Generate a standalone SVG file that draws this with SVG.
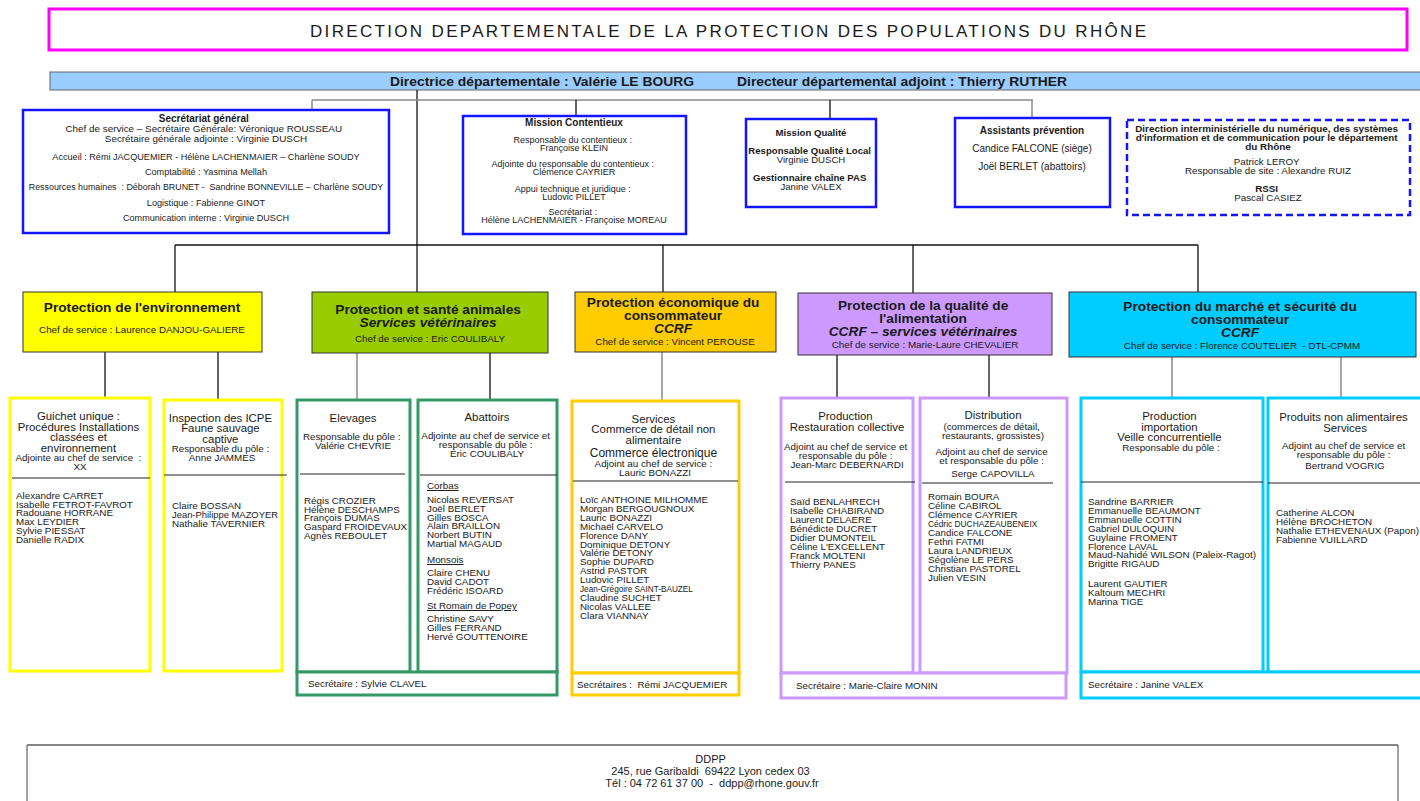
<svg xmlns="http://www.w3.org/2000/svg" width="1420" height="801" viewBox="0 0 1420 801">
  <style>
    text { font-family: "Liberation Sans", Arial, sans-serif; fill: #1a1a1a; }
    .c { text-anchor: middle; }
    .b { font-weight: bold; }
    .i { font-style: italic; }
    .u { text-decoration: underline; }
    .hd { font-size: 13.7px; font-weight: bold; }
    .chef { font-size: 9.8px; }
    .pt { font-size: 11.4px; }
    .ps { font-size: 9.8px; }
    .nm { font-size: 9.8px; }
    .st { font-size: 9.8px; }
    .narrow { font-family: "Liberation Sans Narrow", "Liberation Sans", Arial, sans-serif; }
    .staff { fill: #fff; stroke: #1414ff; stroke-width: 2.5; }
    .dir { stroke: #333; stroke-width: 1; }
    .pole { fill: #fff; stroke-width: 3; }
    .yel { stroke: #ffff00; }
    .grn { stroke: #339966; }
    .org { stroke: #ffcc00; }
    .pur { stroke: #cc99ff; }
    .cyn { stroke: #00ccff; }
    .div { stroke: #222; stroke-width: 1; fill: none; }
    .lnk { stroke: #111; stroke-width: 1.3; fill: none; }
    .lnkg { stroke: #8a8a8a; stroke-width: 1.5; fill: none; }
  </style>

  <rect x="0" y="0" width="1420" height="801" fill="#fff"/>

  <!-- Title banner -->
  <g id="title">
    <rect x="49" y="9" width="1358" height="41" fill="#fff" stroke="#ff00ff" stroke-width="3"/>
    <text x="310" y="37" font-size="17" textLength="836" lengthAdjust="spacing">DIRECTION DEPARTEMENTALE DE LA PROTECTION DES POPULATIONS DU RHÔNE</text>
  </g>

  <!-- Direction bar -->
  <g id="direction">
    <rect x="50" y="72" width="1372" height="18" fill="#99ccff" stroke="#666" stroke-width="1"/>
    <text class="b" font-size="12" x="390" y="86" textLength="304" lengthAdjust="spacingAndGlyphs">Directrice départementale : Valérie LE BOURG</text>
    <text class="b" font-size="12" x="737" y="86" textLength="330" lengthAdjust="spacingAndGlyphs">Directeur départemental adjoint : Thierry RUTHER</text>
  </g>

  <!-- Connectors -->
  <g id="connectors">
    <path class="lnk" d="M417,90 V292"/>
    <path class="lnkg" d="M312,100 H1033"/>
    <path class="lnkg" d="M312,100 V110"/>
    <path class="lnk" d="M576,100 V116"/>
    <path class="lnk" d="M830,100 V119" stroke-width="2"/>
    <path class="lnkg" d="M1032,100 V118"/>
    <path class="lnk" d="M175,245 H1198"/>
    <path class="lnk" d="M175,245 V292" stroke-width="2.2"/>
    <path class="lnk" d="M663,245 V292"/>
    <path class="lnk" d="M913,245 V293"/>
    <path class="lnk" d="M1198,245 V292"/>
    <path class="lnk" d="M105,352 V397"/>
    <path class="lnk" d="M218,352 V400" stroke-width="2"/>
    <path class="lnkg" d="M357,353 V400"/>
    <path class="lnk" d="M490,353 V400"/>
    <path class="lnkg" d="M662,352 V401"/>
    <path class="lnk" d="M837,355 V398"/>
    <path class="lnk" d="M989,355 V398"/>
    <path class="lnkg" d="M1172,357 V398"/>
    <path class="lnkg" d="M1341,357 V398"/>
  </g>

  <!-- Staff units -->
  <g id="secretariat-general">
    <rect class="staff" x="23" y="110" width="366" height="123"/>
    <text class="c" x="206" y="122">
      <tspan x="206" y="122" class="b" font-size="10">Secrétariat général</tspan>
      <tspan x="206" y="132" font-size="9.9">Chef de service – Secrétaire Générale: Véronique ROUSSEAU</tspan>
      <tspan x="206" y="142" font-size="9.9">Secrétaire générale adjointe : Virginie DUSCH</tspan>
    </text>
    <text class="c" font-size="9.1" x="206" y="160">Accueil : Rémi JACQUEMIER - Hélène LACHENMAIER – Charlène SOUDY</text>
    <text class="c" font-size="9.1" x="206" y="175">Comptabilité : Yasmina Mellah</text>
    <text class="c" font-size="8.9" x="206" y="190">Ressources humaines&#160; : Déborah BRUNET -&#160; Sandrine BONNEVILLE – Charlène SOUDY</text>
    <text class="c" font-size="9.1" x="206" y="206">Logistique : Fabienne GINOT</text>
    <text class="c" font-size="9.1" x="206" y="221">Communication interne : Virginie DUSCH</text>
  </g>

  <g id="mission-contentieux">
    <rect class="staff" x="463" y="116" width="223" height="118"/>
    <text class="c b" font-size="10" x="574" y="126">Mission Contentieux</text>
    <text class="c" font-size="9" x="574" y="143">
      <tspan x="574" y="142.5">Responsable du contentieux :</tspan>
      <tspan x="574" y="151">Françoise KLEIN</tspan>
    </text>
    <text class="c" font-size="9" x="574" y="167">
      <tspan x="574" y="166.5">Adjointe du responsable du contentieux :</tspan>
      <tspan x="574" y="175">Clémence CAYRIER</tspan>
    </text>
    <text class="c" font-size="9" x="574" y="192">
      <tspan x="574" y="191.5">Appui technique et juridique :</tspan>
      <tspan x="574" y="200">Ludovic PILLET</tspan>
    </text>
    <text class="c" font-size="9" x="574" y="215">
      <tspan x="574" y="214.5">Secrétariat :</tspan>
      <tspan x="574" y="223">Hélène LACHENMAIER - Françoise MOREAU</tspan>
    </text>
  </g>

  <g id="mission-qualite">
    <rect class="staff" x="746" y="119" width="130" height="88"/>
    <text class="c b" font-size="9.6" x="811" y="136">Mission Qualité</text>
    <text class="c" font-size="9.6" x="811" y="154">
      <tspan x="811" y="154" class="b">Responsable Qualité Local</tspan>
      <tspan x="811" y="163">Virginie DUSCH</tspan>
    </text>
    <text class="c" font-size="9.6" x="811" y="181">
      <tspan x="811" y="181" class="b">Gestionnaire chaîne PAS</tspan>
      <tspan x="811" y="190">Janine VALEX</tspan>
    </text>
  </g>

  <g id="assistants-prevention">
    <rect class="staff" x="955" y="118" width="155" height="89"/>
    <text class="c b" font-size="10" x="1032" y="134">Assistants prévention</text>
    <text class="c" font-size="10" x="1032" y="152">Candice FALCONE (siège)</text>
    <text class="c" font-size="10" x="1032" y="170">Joël BERLET (abattoirs)</text>
  </g>

  <g id="dinum">
    <rect x="1127" y="120" width="283" height="95" fill="#fff" stroke="#1414ff" stroke-width="2.5" stroke-dasharray="7,4"/>
    <text class="c b" font-size="9.9" x="1268" y="132">
      <tspan x="1268" y="132">Direction interministérielle du numérique, des systèmes</tspan>
      <tspan x="1268" y="141">d'information et de communication pour le département</tspan>
      <tspan x="1268" y="150">du Rhône</tspan>
    </text>
    <text class="c" font-size="9.8" x="1268" y="165">
      <tspan x="1268" y="165">Patrick LEROY</tspan>
      <tspan x="1268" y="174">Responsable de site : Alexandre RUIZ</tspan>
    </text>
    <text class="c" font-size="9.8" x="1268" y="192">
      <tspan x="1268" y="192" class="b">RSSI</tspan>
      <tspan x="1268" y="201">Pascal CASIEZ</tspan>
    </text>
  </g>

  <!-- Services -->
  <g id="service-environnement">
    <rect class="dir" x="23" y="292" width="239" height="60" fill="#ffff00"/>
    <text class="c hd" x="142" y="312">Protection de l'environnement</text>
    <text class="c chef" x="142" y="333">Chef de service : Laurence DANJOU-GALIERE</text>
  </g>

  <g id="service-sante-animale">
    <rect class="dir" x="312" y="292" width="236" height="61" fill="#99cc00"/>
    <text class="c hd" x="430" y="314">
      <tspan x="430" y="314">Protection et santé animales</tspan>
      <tspan x="430" y="327" class="i">Services vétérinaires</tspan>
      <tspan x="430" y="342" class="chef" font-weight="normal">Chef de service : Eric COULIBALY</tspan>
    </text>
  </g>

  <g id="service-economique">
    <rect class="dir" x="575" y="292" width="201" height="60" fill="#ffcc00"/>
    <text class="c hd" x="675" y="307">
      <tspan x="675" y="307">Protection économique du</tspan>
      <tspan x="675" y="320">consommateur</tspan>
      <tspan x="675" y="333" class="i">CCRF</tspan>
      <tspan x="675" y="345" class="chef" font-weight="normal">Chef de service : Vincent PEROUSE</tspan>
    </text>
  </g>

  <g id="service-alimentation">
    <rect class="dir" x="798" y="293" width="254" height="62" fill="#cc99ff"/>
    <text class="c hd" x="925" y="310">
      <tspan x="925" y="310">Protection de la qualité de</tspan>
      <tspan x="925" y="323">l'alimentation</tspan>
      <tspan x="925" y="336" class="i">CCRF – services vétérinaires</tspan>
      <tspan x="925" y="348" class="chef" font-weight="normal">Chef de service : Marie-Laure CHEVALIER</tspan>
    </text>
  </g>

  <g id="service-marche">
    <rect class="dir" x="1069" y="292" width="347" height="65" fill="#00ccff"/>
    <text class="c hd" x="1242" y="311">
      <tspan x="1242" y="311">Protection du marché et sécurité du</tspan>
      <tspan x="1242" y="324">consommateur</tspan>
      <tspan x="1242" y="337" class="i">CCRF</tspan>
      <tspan x="1242" y="349" class="chef" font-weight="normal">Chef de service : Florence COUTELIER&#160; - DTL-CPMM</tspan>
    </text>
  </g>

  <!-- Poles: environnement -->
  <g id="pole-guichet-unique">
    <rect class="pole yel" x="10" y="398" width="140" height="273"/>
    <path class="div" d="M12,478 H150"/>
    <text class="c pt" x="80" y="420">
      <tspan x="80" y="420">Guichet unique :</tspan>
      <tspan x="80" y="430.5">Procédures Installations</tspan>
      <tspan x="80" y="441">classées et</tspan>
      <tspan x="80" y="451.5">environnement</tspan>
      <tspan x="80" y="461" class="ps">Adjointe au chef de service&#160; :</tspan>
      <tspan x="80" y="470" class="ps">XX</tspan>
    </text>
    <text class="nm" x="16" y="499">
      <tspan x="16">Alexandre CARRET</tspan>
      <tspan x="16" dy="8.7">Isabelle FETROT-FAVROT</tspan>
      <tspan x="16" dy="8.7">Radouane HORRANE</tspan>
      <tspan x="16" dy="8.7">Max LEYDIER</tspan>
      <tspan x="16" dy="8.7">Sylvie PIESSAT</tspan>
      <tspan x="16" dy="8.7">Danielle RADIX</tspan>
    </text>
  </g>

  <g id="pole-icpe">
    <rect class="pole yel" x="164" y="400" width="118" height="271"/>
    <path class="div" d="M164,475 H287"/>
    <text class="c pt" x="222" y="422">
      <tspan x="222" y="421.5">Inspection des ICPE</tspan>
      <tspan x="222" y="432">Faune sauvage</tspan>
      <tspan x="222" y="442.5">captive</tspan>
      <tspan x="222" y="452" class="ps">Responsable du pôle :</tspan>
      <tspan x="222" y="461" class="ps">Anne JAMMES</tspan>
    </text>
    <text class="nm" x="172" y="509">
      <tspan x="172">Claire BOSSAN</tspan>
      <tspan x="172" dy="8.8" textLength="106" lengthAdjust="spacingAndGlyphs">Jean-Philippe MAZOYER</tspan>
      <tspan x="172" dy="8.8">Nathalie TAVERNIER</tspan>
    </text>
  </g>

  <!-- Poles: santé animale -->
  <g id="pole-elevages">
    <rect class="pole grn" x="297" y="400" width="113" height="272"/>
    <path class="div" d="M300,474 H405"/>
    <text class="c pt" x="353" y="422">Elevages</text>
    <text class="c ps" x="353" y="440">
      <tspan x="353" y="440">Responsable du pôle :</tspan>
      <tspan x="353" y="449">Valérie CHEVRIE</tspan>
    </text>
    <text class="nm" x="304" y="504">
      <tspan x="304">Régis CROZIER</tspan>
      <tspan x="304" dy="8.7">Hélène DESCHAMPS</tspan>
      <tspan x="304" dy="8.7">François DUMAS</tspan>
      <tspan x="304" dy="8.7" textLength="103" lengthAdjust="spacingAndGlyphs">Gaspard FROIDEVAUX</tspan>
      <tspan x="304" dy="8.7">Agnès REBOULET</tspan>
    </text>
  </g>

  <g id="pole-abattoirs">
    <rect class="pole grn" x="418" y="400" width="139" height="272"/>
    <path class="div" d="M420,475 H557"/>
    <text class="c pt" x="487" y="421">Abattoirs</text>
    <text class="c ps" x="487" y="439">
      <tspan x="487" y="439">Adjointe au chef de service et</tspan>
      <tspan x="487" y="448">responsable du pôle :</tspan>
      <tspan x="487" y="457">Éric COULIBALY</tspan>
    </text>
    <text class="nm" x="427" y="489">
      <tspan x="427" y="489" class="u">Corbas</tspan>
      <tspan x="427" y="503">Nicolas REVERSAT</tspan>
      <tspan x="427" dy="8.8">Joël BERLET</tspan>
      <tspan x="427" dy="8.8">Gilles BOSCA</tspan>
      <tspan x="427" dy="8.8">Alain BRAILLON</tspan>
      <tspan x="427" dy="8.8">Norbert BUTIN</tspan>
      <tspan x="427" dy="8.8">Martial MAGAUD</tspan>
      <tspan x="427" y="563" class="u">Monsois</tspan>
      <tspan x="427" y="576">Claire CHENU</tspan>
      <tspan x="427" dy="8.8">David CADOT</tspan>
      <tspan x="427" dy="8.8">Frédéric ISOARD</tspan>
      <tspan x="427" y="609" class="u">St Romain de Popey</tspan>
      <tspan x="427" y="622">Christine SAVY</tspan>
      <tspan x="427" dy="8.8">Gilles FERRAND</tspan>
      <tspan x="427" dy="8.8">Hervé GOUTTENOIRE</tspan>
    </text>
  </g>

  <g id="secretariat-sante-animale">
    <rect class="pole grn" x="297" y="672" width="260" height="23"/>
    <text class="st" x="308" y="687">Secrétaire : Sylvie CLAVEL</text>
  </g>

  <!-- Pole: économique -->
  <g id="pole-services-commerce">
    <rect class="pole org" x="572" y="401" width="167" height="272"/>
    <path class="div" d="M573,481 H738"/>
    <text class="c pt" x="655" y="423">
      <tspan x="655" y="422.5">Services</tspan>
      <tspan x="655" y="433">Commerce de détail non</tspan>
      <tspan x="655" y="443.5">alimentaire</tspan>
      <tspan x="655" y="457" font-size="12">Commerce électronique</tspan>
      <tspan x="655" y="467" class="ps">Adjoint au chef de service :</tspan>
      <tspan x="655" y="476" class="ps">Lauric BONAZZI</tspan>
    </text>
    <text class="nm" x="580" y="503">
      <tspan x="580">Loïc ANTHOINE MILHOMME</tspan>
      <tspan x="580" dy="8.9">Morgan BERGOUGNOUX</tspan>
      <tspan x="580" dy="8.9">Lauric BONAZZI</tspan>
      <tspan x="580" dy="8.9">Michaël CARVELO</tspan>
      <tspan x="580" dy="8.9">Florence DANY</tspan>
      <tspan x="580" dy="8.9">Dominique DETONY</tspan>
      <tspan x="580" dy="8.9">Valérie DETONY</tspan>
      <tspan x="580" dy="8.9">Sophie DUPARD</tspan>
      <tspan x="580" dy="8.9">Astrid PASTOR</tspan>
      <tspan x="580" dy="8.9">Ludovic PILLET</tspan>
      <tspan x="580" dy="8.9" font-size="8.2">Jean-Grégoire SAINT-BAUZEL</tspan>
      <tspan x="580" dy="8.9">Claudine SUCHET</tspan>
      <tspan x="580" dy="8.9">Nicolas VALLEE</tspan>
      <tspan x="580" dy="8.9">Clara VIANNAY</tspan>
    </text>
  </g>

  <g id="secretariat-economique">
    <rect class="pole org" x="572" y="673" width="167" height="22"/>
    <text class="st" x="577" y="688">Secrétaires :&#160; Rémi JACQUEMIER</text>
  </g>

  <!-- Poles: alimentation -->
  <g id="pole-production-restauration">
    <rect class="pole pur" x="781" y="398" width="132" height="275"/>
    <path class="div" d="M785,482 H915"/>
    <text class="c pt" x="847" y="420">
      <tspan x="847" y="420">Production</tspan>
      <tspan x="847" y="431">Restauration collective</tspan>
    </text>
    <text class="c ps" x="847" y="450">
      <tspan x="847" y="450">Adjoint au chef de service et</tspan>
      <tspan x="847" y="459">responsable du pôle :</tspan>
      <tspan x="847" y="468">Jean-Marc DEBERNARDI</tspan>
    </text>
    <text class="nm" x="790" y="505">
      <tspan x="790">Saïd BENLAHRECH</tspan>
      <tspan x="790" dy="9">Isabelle CHABIRAND</tspan>
      <tspan x="790" dy="9">Laurent DELAERE</tspan>
      <tspan x="790" dy="9">Bénédicte DUCRET</tspan>
      <tspan x="790" dy="9">Didier DUMONTEIL</tspan>
      <tspan x="790" dy="9">Céline L'EXCELLENT</tspan>
      <tspan x="790" dy="9">Franck MOLTENI</tspan>
      <tspan x="790" dy="9">Thierry PANES</tspan>
    </text>
  </g>

  <g id="pole-distribution">
    <rect class="pole pur" x="920" y="398" width="147" height="275"/>
    <path class="div" d="M922,483 H1053"/>
    <text class="c pt" x="993" y="419">Distribution</text>
    <text class="c ps" x="993" y="430">
      <tspan x="993" y="430">(commerces de détail,</tspan>
      <tspan x="993" y="439">restaurants, grossistes)</tspan>
    </text>
    <text class="c ps" x="993" y="455">
      <tspan x="993" y="455">Adjoint au chef de service</tspan>
      <tspan x="993" y="464">et responsable du pôle :</tspan>
      <tspan x="993" y="477">Serge CAPOVILLA</tspan>
    </text>
    <text class="nm" x="928" y="500">
      <tspan x="928">Romain BOURA</tspan>
      <tspan x="928" dy="9">Céline CABIROL</tspan>
      <tspan x="928" dy="9">Clémence CAYRIER</tspan>
      <tspan x="928" dy="9" font-size="8.4">Cédric DUCHAZEAUBENEIX</tspan>
      <tspan x="928" dy="9">Candice FALCONE</tspan>
      <tspan x="928" dy="9">Fethri FATMI</tspan>
      <tspan x="928" dy="9">Laura LANDRIEUX</tspan>
      <tspan x="928" dy="9">Ségolène LE PERS</tspan>
      <tspan x="928" dy="9">Christian PASTOREL</tspan>
      <tspan x="928" dy="9">Julien VESIN</tspan>
    </text>
  </g>

  <g id="secretariat-alimentation">
    <rect class="pole pur" x="781" y="673" width="285" height="25"/>
    <text class="st" x="796" y="689">Secrétaire : Marie-Claire MONIN</text>
  </g>

  <!-- Poles: marché -->
  <g id="pole-production-importation">
    <rect class="pole cyn" x="1081" y="398" width="182" height="274"/>
    <path class="div" d="M1081,482 H1263"/>
    <text class="c pt" x="1171" y="420">
      <tspan x="1171" y="420">Production</tspan>
      <tspan x="1171" y="430.5">importation</tspan>
      <tspan x="1171" y="441">Veille concurrentielle</tspan>
      <tspan x="1171" y="451" class="ps">Responsable du pôle :</tspan>
    </text>
    <text class="nm" x="1088" y="505">
      <tspan x="1088">Sandrine BARRIER</tspan>
      <tspan x="1088" dy="8.9">Emmanuelle BEAUMONT</tspan>
      <tspan x="1088" dy="8.9">Emmanuelle COTTIN</tspan>
      <tspan x="1088" dy="8.9">Gabriel DULOQUIN</tspan>
      <tspan x="1088" dy="8.9">Guylaine FROMENT</tspan>
      <tspan x="1088" dy="8.9">Florence LAVAL</tspan>
      <tspan x="1088" dy="8.9" textLength="168" lengthAdjust="spacingAndGlyphs">Maud-Nahidé WILSON (Paleix-Ragot)</tspan>
      <tspan x="1088" dy="8.9">Brigitte RIGAUD</tspan>
      <tspan x="1088" y="587">Laurent GAUTIER</tspan>
      <tspan x="1088" dy="8.9">Kaltoum MECHRI</tspan>
      <tspan x="1088" dy="8.9">Marina TIGE</tspan>
    </text>
  </g>

  <g id="pole-produits-non-alimentaires">
    <rect class="pole cyn" x="1268" y="398" width="156" height="274"/>
    <path class="div" d="M1268,483 H1420"/>
    <text class="c pt" x="1345" y="421">
      <tspan x="1345" y="421">Produits non alimentaires</tspan>
      <tspan x="1345" y="432">Services</tspan>
    </text>
    <text class="c ps" x="1345" y="449">
      <tspan x="1345" y="449">Adjoint au chef de service et</tspan>
      <tspan x="1345" y="458">responsable du pôle :</tspan>
      <tspan x="1345" y="469">Bertrand VOGRIG</tspan>
    </text>
    <text class="nm" x="1276" y="516">
      <tspan x="1276">Catherine ALCON</tspan>
      <tspan x="1276" dy="8.9">Hélène BROCHETON</tspan>
      <tspan x="1276" dy="8.9" textLength="143" lengthAdjust="spacingAndGlyphs">Nathalie ETHEVENAUX (Papon)</tspan>
      <tspan x="1276" dy="8.9">Fabienne VUILLARD</tspan>
    </text>
  </g>

  <g id="secretariat-marche">
    <rect class="pole cyn" x="1081" y="672" width="342" height="26"/>
    <text class="st" x="1088" y="688">Secrétaire : Janine VALEX</text>
  </g>

  <!-- Footer address block -->
  <g id="footer">
    <path d="M27,745 H1398" stroke="#888" stroke-width="2" fill="none"/>
    <path d="M27,745 V801 M1398,745 V801" stroke="#444" stroke-width="1" fill="none"/>
    <text class="c narrow" font-size="11" x="712" y="763">
      <tspan x="712" y="763">DDPP</tspan>
      <tspan x="712" y="775">245, rue Garibaldi&#160; 69422 Lyon cedex 03</tspan>
      <tspan x="712" y="787">Tél : 04 72 61 37 00&#160; -&#160; ddpp@rhone.gouv.fr</tspan>
    </text>
  </g>
</svg>
